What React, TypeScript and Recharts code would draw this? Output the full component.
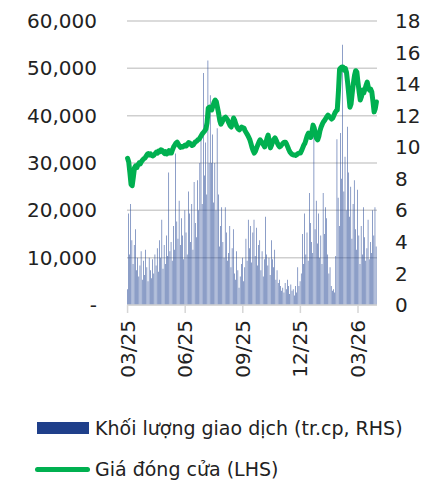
import { ComposedChart, Bar, Line, XAxis, YAxis, CartesianGrid } from 'recharts';

// closing price, thousand VND (left axis)
const closePrice = [
  31.0, 30.2, 28.0, 25.5, 25.2, 27.0, 29.0, 29.4, 29.0, 29.6,
  30.0, 29.8, 30.3, 30.6, 30.9, 31.0, 31.4, 31.8, 32.0, 31.7,
  31.9, 31.6, 31.5, 31.7, 32.0, 32.3, 32.1, 32.5, 32.4, 32.8,
  32.7, 32.3, 32.0, 32.4, 31.9, 32.2, 32.6, 32.1, 32.1, 32.8,
  33.4, 33.8, 34.2, 34.4, 34.0, 33.6, 33.3, 33.5, 33.4, 33.6,
  33.8, 33.6, 34.0, 34.3, 34.2, 33.9, 33.7, 33.8, 34.2, 34.5,
  34.6, 34.9, 35.0, 35.4, 35.8, 36.2, 36.5, 36.8, 37.2, 38.5,
  41.6, 41.8, 41.3, 41.2, 42.0, 42.8, 43.3, 43.0, 41.8, 40.5,
  39.0, 38.2, 38.6, 39.2, 39.5, 39.7, 39.4, 39.0, 38.4, 37.9,
  37.6, 38.6, 39.5, 39.0, 38.2, 37.6, 37.2, 37.0, 37.3, 37.6,
  37.4, 37.4, 36.8, 36.4, 36.0, 35.5, 35.0, 34.2, 33.3, 32.6,
  32.1, 32.5, 33.2, 33.8, 34.4, 34.9, 34.6, 34.2, 33.8, 33.4,
  34.2, 35.2, 35.9, 34.6, 33.2, 33.8, 34.5, 35.0, 35.3, 34.8,
  34.2, 33.7, 33.4, 33.6, 33.9, 34.2, 34.4, 34.4, 34.0, 33.4,
  32.8, 32.3, 32.0, 31.8, 31.7, 31.7, 31.6, 31.8, 32.0, 32.1,
  32.1, 32.6, 33.2, 33.8, 34.2, 35.0, 35.8, 36.3, 36.0, 35.4,
  36.6, 38.0, 37.4, 36.3, 35.2, 34.9, 35.6, 36.8, 37.6, 38.2,
  38.7, 39.0, 39.4, 39.8, 40.1, 39.8, 39.6, 39.3, 39.5, 40.0,
  40.6, 41.0, 41.2, 45.0, 49.8, 50.1, 50.3, 50.3, 49.6, 50.0,
  49.2, 47.0, 44.5, 41.8, 42.5, 44.8, 46.9, 48.5, 49.5, 49.2,
  47.0, 45.0, 43.3, 44.0, 45.4, 44.8, 45.6, 46.4, 47.1, 46.0,
  45.4, 45.6, 45.0, 43.0, 40.8, 41.5, 42.9,
];

// trading volume, million shares (right axis)
const volume = [
  1.0, 5.8, 3.2, 6.4, 4.1, 2.6, 3.8, 4.8, 2.2, 3.0,
  1.8, 2.5, 3.4, 1.6, 2.8, 1.9, 3.5, 2.4, 1.5, 3.0,
  2.2, 1.7, 2.9, 2.0, 3.2, 2.5, 3.6, 2.1, 4.1, 3.0,
  5.4, 2.3, 3.8, 2.6, 4.4, 3.1, 8.4, 3.4, 4.0, 2.8,
  5.0, 3.5, 9.6, 5.3, 4.2, 6.6, 3.8, 5.5, 4.4, 2.9,
  6.0, 4.6, 3.2, 7.2, 5.8, 4.0, 6.4, 3.5, 7.8, 5.2,
  4.3, 7.9, 6.0, 9.0, 10.8, 6.4, 14.7, 8.2, 10.3, 7.0,
  15.5, 9.0, 13.3, 9.0, 10.8, 6.5, 9.0, 6.0, 11.2, 7.0,
  3.7, 5.0, 6.2, 4.0, 3.0, 6.2, 4.6, 2.8, 3.3, 5.0,
  2.4, 3.6, 4.8, 2.0, 1.6, 3.4, 2.2, 1.1, 1.8, 2.6,
  3.0, 1.5, 2.4, 4.2, 2.8, 5.4, 3.6, 5.0, 2.7, 4.6,
  5.4, 3.1, 4.9, 2.5, 3.8, 4.1, 2.2, 3.4, 1.8, 2.9,
  5.6, 3.2, 2.5, 3.0, 1.9, 4.1, 2.9, 2.4, 3.5, 1.6,
  2.2, 1.4, 1.6, 1.2, 0.9, 1.1, 0.8, 1.4, 1.0, 1.6,
  1.2, 0.7, 1.3, 0.9, 1.0, 0.6, 1.2, 0.8, 2.4, 1.2,
  1.5, 2.0, 4.5, 2.6, 5.8, 3.2, 4.6, 2.8, 7.1, 5.2,
  4.0, 3.3, 11.5, 4.8, 6.6, 3.9, 5.8, 3.0, 4.4, 2.6,
  7.1, 4.5, 6.2, 5.5, 3.2, 2.0, 2.4, 1.2, 0.9, 1.0,
  0.8, 3.1, 10.5, 6.8, 5.0, 10.9, 8.0, 16.5, 7.2, 9.4,
  6.0, 11.3, 8.4, 5.6, 7.5, 4.2, 6.4, 7.9, 4.8, 3.5,
  7.3, 4.4, 2.6, 5.0, 3.2, 6.2, 4.3, 2.8, 3.6, 5.4,
  2.9, 4.0, 3.3, 6.0, 4.4, 6.2, 3.7,
];

const tickIdx = [0, 50, 100, 150, 200];
const tickLabels = ['03/25', '06/25', '09/25', '12/25', '03/26'];
const priceTicks = [0, 10, 20, 30, 40, 50, 60];
const volTicks = [0, 2, 4, 6, 8, 10, 12, 14, 16, 18];

const data = closePrice.map((p, i) => ({ idx: i, price: p, volume: volume[i] }));

const FONT = '"DejaVu Sans", sans-serif';
const GRID = '#d6d6d6';

function DateTick({ x, y, payload }: any) {
  const label = tickLabels[tickIdx.indexOf(payload.value)] ?? '';
  return (
    <g transform={`translate(${x},${y})`}>
      <text transform="rotate(-90)" x={-5} y={7} textAnchor="end" fontSize={20} fill="#222" fontFamily={FONT}>
        {label}
      </text>
    </g>
  );
}

export default function App() {
  return (
    <div style={{ position: 'absolute', left: 0, top: 0, width: 433, height: 484, background: '#fff', fontFamily: FONT }}>
      <ComposedChart width={433} height={400} data={data} margin={{ top: 21, right: 0, left: 0, bottom: 0 }}>
        <XAxis
          dataKey="idx"
          ticks={tickIdx}
          interval={0}
          height={95}
          tick={<DateTick />}
          tickSize={8}
          axisLine={{ stroke: GRID, strokeWidth: 1.5 }}
          tickLine={{ stroke: GRID, strokeWidth: 1.5 }}
        />
        <YAxis
          yAxisId="price"
          width={127}
          domain={[0, 60]}
          ticks={priceTicks}
          tickFormatter={(v: number) => (v === 0 ? '-' : `${v},000`)}
          axisLine={false}
          tickLine={false}
          tickSize={0}
          tickMargin={30}
          tick={{ fontSize: 20, fill: '#222', fontFamily: FONT }}
        />
        <YAxis
          yAxisId="vol"
          orientation="right"
          width={56}
          domain={[0, 18]}
          ticks={volTicks}
          axisLine={false}
          tickLine={false}
          tickSize={0}
          tickMargin={18}
          tick={{ fontSize: 20, fill: '#222', fontFamily: FONT }}
        />
        <Bar yAxisId="vol" dataKey="volume" fill="#2f4f9a" barSize={0.55} isAnimationActive={false} />
        <CartesianGrid yAxisId="price" vertical={false} stroke="#bbbbbb" strokeOpacity={0.7} strokeWidth={1.5} />
        <Line
          yAxisId="price"
          dataKey="price"
          type="linear"
          stroke="#00b050"
          strokeWidth={5}
          dot={false}
          strokeLinejoin="round"
          strokeLinecap="round"
          isAnimationActive={false}
        />
      </ComposedChart>
      <div style={{ position: 'absolute', left: 37, top: 422, width: 52, height: 12, background: '#1f3f8a' }} />
      <div style={{ position: 'absolute', left: 95, top: 416, fontSize: 19, lineHeight: '24px', color: '#222' }}>
        Khối lượng giao dịch (tr.cp, RHS)
      </div>
      <div style={{ position: 'absolute', left: 35, top: 467, width: 55, height: 5, borderRadius: 3, background: '#00b050' }} />
      <div style={{ position: 'absolute', left: 95, top: 457, fontSize: 19, lineHeight: '24px', color: '#222' }}>
        Giá đóng cửa (LHS)
      </div>
    </div>
  );
}
